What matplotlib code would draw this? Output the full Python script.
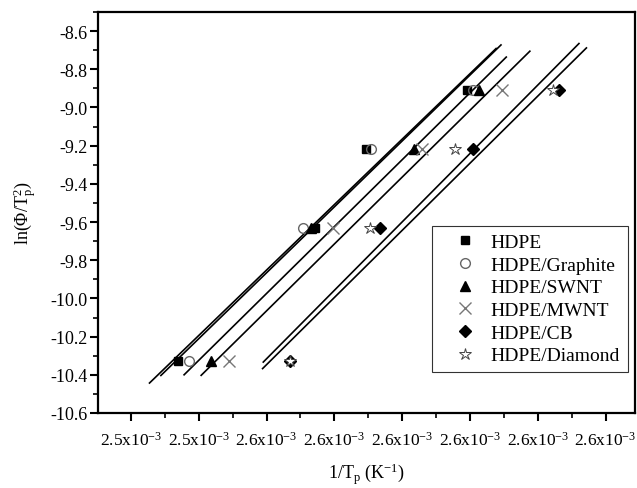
import numpy as np
import matplotlib
matplotlib.use("Agg")
import matplotlib.pyplot as plt
from matplotlib.ticker import MultipleLocator

plt.rcParams['font.family'] = ['Liberation Serif', 'DejaVu Serif']
plt.rcParams['mathtext.fontset'] = 'custom'
plt.rcParams['mathtext.rm'] = 'Liberation Serif'
plt.rcParams['mathtext.it'] = 'Liberation Serif:italic'

# ln(phi/Tp^2) for the four cooling rates
ln_rate = [-10.33, -9.63, -9.22, -8.91]

# 1/Tp values (x10^-3 K^-1)
hdpe = [2.5435, 2.5536, 2.5573, 2.5648]
graphite = [2.5443, 2.5527, 2.5577, 2.5652]
swnt = [2.5459, 2.5533, 2.5609, 2.5657]
mwnt = [2.5472, 2.5549, 2.5615, 2.5674]
cb = [2.5517, 2.5584, 2.5652, 2.5716]
diamond = [2.5517, 2.5576, 2.5639, 2.5711]

labels = ['HDPE', 'HDPE/Graphite', 'HDPE/SWNT', 'HDPE/MWNT', 'HDPE/CB', 'HDPE/Diamond']
series = [hdpe, graphite, swnt, mwnt, cb, diamond]

xticks = [2.540, 2.545, 2.550, 2.555, 2.560, 2.565, 2.570, 2.575]
xticklabels = ['2.5', '2.5', '2.6', '2.6', '2.6', '2.6', '2.6', '2.6']

fig = plt.figure(figsize=(6.37, 4.89), dpi=100)
ax = fig.add_axes([0.1538, 0.1534, 0.843, 0.82])

styles = [
    dict(marker='s', color='black', ms=6, mfc='black', mec='black'),
    dict(marker='o', color='#666666', ms=7, mfc='none', mec='#666666', mew=1.0),
    dict(marker='^', color='black', ms=7, mfc='black', mec='black'),
    dict(marker='x', color='#777777', ms=8, mec='#777777', mew=1.0),
    dict(marker='D', color='black', ms=6, mfc='black', mec='black'),
    dict(marker='*', color='#555555', ms=9, mfc='white', mec='#444444', mew=0.7),
]

for xs, lab, st in zip(series, labels, styles):
    x = np.array(xs) * 1e-3
    y = np.array(ln_rate)
    k, b = np.polyfit(x, y, 1)
    pad = 0.1 * (x.max() - x.min())
    xf = np.array([x.min() - pad, x.max() + pad])
    ax.plot(xf, k * xf + b, color='black', lw=1.2, zorder=2)
    ax.plot(x, y, linestyle='none', label=lab, zorder=3, **st)

ax.set_xlim(2.53757e-3, 2.57717e-3)
ax.set_ylim(-10.6, -8.5)
ax.set_xticks(np.array(xticks) * 1e-3)
ax.set_xticklabels([t + 'x10$^{-3}$' for t in xticklabels])
ax.xaxis.set_minor_locator(MultipleLocator(0.0025e-3))
yt = np.arange(-10.6, -8.59, 0.2)
ax.set_yticks(yt)
ax.set_yticklabels(['%.1f' % v for v in yt])
ax.yaxis.set_minor_locator(MultipleLocator(0.1))

ax.tick_params(which='major', direction='out', length=5.5, width=1.5, labelsize=13)
ax.tick_params(which='minor', direction='out', length=3.5, width=1.2)
ax.tick_params(axis='x', which='major', pad=7, labelsize=12.5)
ax.tick_params(axis='y', which='major', pad=2)
for s in ax.spines.values():
    s.set_linewidth(1.6)

ax.set_xlabel('1/T$_\\mathrm{p}$ (K$^{-1}$)', fontsize=13, labelpad=9)
ax.set_ylabel('ln(\u03a6/T$_\\mathrm{p}^2$)', fontsize=13, labelpad=8)

leg = ax.legend(loc='lower right', bbox_to_anchor=(0.987, 0.102), borderaxespad=0,
                fontsize=14, frameon=True, fancybox=False, edgecolor='black',
                handletextpad=0.1, labelspacing=0.26, handlelength=2.5, borderpad=0.4)
leg.get_frame().set_linewidth(0.8)

fig.savefig('out.png', dpi=100)
